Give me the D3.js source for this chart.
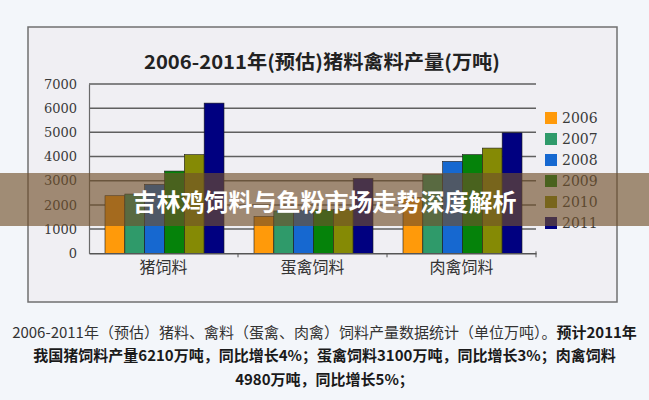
<!DOCTYPE html>
<html><head><meta charset="utf-8">
<script src="https://cdn.jsdelivr.net/npm/d3@7"></script>
<style>html,body{margin:0;padding:0;background:#f3f6fa;}svg{display:block;}</style>
</head><body>
<script>
const categories = ["猪饲料", "蛋禽饲料", "肉禽饲料"];
const years = ["2006", "2007", "2008", "2009", "2010", "2011"];
const v2006 = [2380, 1520, 2300];
const v2007 = [2450, 1750, 3250];
const v2008 = [2850, 1780, 3800];
const v2009 = [3400, 1800, 4080];
const v2010 = [4080, 1820, 4350];
const v2011 = [6210, 3100, 4980];
const yTicks = [0, 1000, 2000, 3000, 4000, 5000, 6000, 7000];
const seriesValues = [v2006, v2007, v2008, v2009, v2010, v2011];
const colors = ["#ff9a0a", "#2f9a6a", "#1668d0", "#05820a", "#858a05", "#000080"];
const title = "2006-2011年(预估)猪料禽料产量(万吨)";
const banner = "吉林鸡饲料与鱼粉市场走势深度解析";

const W = 649, H = 400;
const svg = d3.select("body").append("svg").attr("width", W).attr("height", H);
svg.append("rect").attr("width", W).attr("height", H).attr("fill", "#f3f6fa");

// frame
svg.append("rect").attr("x", 28).attr("y", 27).attr("width", 589).attr("height", 275)
  .attr("fill", "#f0eff3").attr("stroke", "#707070").attr("stroke-width", 1.5);

svg.append("text").attr("x", 322).attr("y", 60).attr("text-anchor", "middle")
  .attr("dominant-baseline", "central")
  .attr("font-family", "'Noto Sans CJK SC', sans-serif").attr("font-weight", 700)
  .attr("font-size", 19).attr("fill", "#222").attr("textLength", 356).attr("lengthAdjust", "spacingAndGlyphs")
  .text(title);

const x0 = d3.scaleBand().domain(categories).range([89, 536]).padding(0);
const x1 = d3.scaleBand().domain(years).range([16, 135]).padding(0);
const y = d3.scaleLinear().domain([0, 7000]).range([253.3, 84]);

// gridlines
svg.append("g").selectAll("line").data(yTicks.slice(1)).join("line")
  .attr("x1", 89).attr("x2", 536).attr("y1", d => y(d)).attr("y2", d => y(d))
  .attr("stroke", "#5f5f5f").attr("stroke-width", 1.5);

// y axis
const yAxis = d3.axisLeft(y).tickValues(yTicks).tickFormat(d3.format("d")).tickSize(0).tickPadding(12);
const gy = svg.append("g").attr("transform", "translate(89,0)").call(yAxis);
gy.select(".domain").attr("stroke", "#6a6a6a").attr("stroke-width", 1.2);
gy.selectAll("text").attr("font-family", "'DejaVu Serif', serif").attr("font-size", 13)
  .attr("fill", "#3a3a3a");

// bars
const bars = [];
categories.forEach((c, ci) => years.forEach((yr, si) => bars.push({c, yr, si, v: seriesValues[si][ci]})));
svg.append("g").selectAll("rect").data(bars).join("rect")
  .attr("x", d => x0(d.c) + x1(d.yr)).attr("width", x1.bandwidth())
  .attr("y", d => y(d.v)).attr("height", d => y(0) - y(d.v))
  .attr("fill", d => colors[d.si]).attr("stroke", "#1a1a1a").attr("stroke-width", 0.6);

// x axis
const xAxis = d3.axisBottom(x0).tickSize(0).tickPadding(12);
const gx = svg.append("g").attr("transform", `translate(0,${y(0)})`).call(xAxis);
gx.select(".domain").attr("stroke", "#555").attr("stroke-width", 1.5);
gx.selectAll("text").attr("font-family", "'Noto Sans CJK SC', sans-serif").attr("font-size", 16)
  .attr("fill", "#333").attr("dy", "0.5em");
svg.append("g").selectAll("line").data([categories[1], categories[2]]).join("line")
  .attr("x1", d => x0(d)).attr("x2", d => x0(d)).attr("y1", y(0)).attr("y2", y(0) + 4)
  .attr("stroke", "#555");
svg.append("line").attr("x1", 536).attr("x2", 536).attr("y1", y(0) - 2).attr("y2", y(0) + 4).attr("stroke", "#555");

// legend
const lg = svg.append("g");
years.forEach((yr, i) => {
  const cy = 118 + i * 21;
  lg.append("rect").attr("x", 545).attr("y", cy - 6).attr("width", 12).attr("height", 12).attr("fill", colors[i]);
  lg.append("text").attr("x", 562).attr("y", cy).attr("dominant-baseline", "central")
    .attr("font-family", "'DejaVu Serif', serif").attr("font-size", 14).attr("fill", "#3a3a3a").text(yr);
});

// banner overlay
svg.append("rect").attr("x", 0).attr("y", 173).attr("width", W).attr("height", 53)
  .attr("fill", "rgb(112,80,42)").attr("fill-opacity", 0.64);
svg.append("text").attr("x", 324.5).attr("y", 200).attr("text-anchor", "middle")
  .attr("dominant-baseline", "central")
  .attr("font-family", "'Noto Sans CJK SC', sans-serif").attr("font-weight", 700)
  .attr("font-size", 24).attr("fill", "#ffffff").text(banner);

// caption
const cap = svg.append("g").attr("font-family", "'Noto Sans CJK SC', sans-serif").attr("font-size", 15).attr("fill", "#1a1a1a");
const l1 = cap.append("text").attr("x", 324.5).attr("y", 331).attr("text-anchor", "middle").attr("dominant-baseline", "central");
l1.append("tspan").attr("fill", "#333").text("2006-2011年（预估）猪料、禽料（蛋禽、肉禽）饲料产量数据统计（单位万吨）。");
l1.append("tspan").attr("font-weight", 700).text("预计2011年");
cap.append("text").attr("x", 324.5).attr("y", 354).attr("text-anchor", "middle").attr("dominant-baseline", "central")
  .attr("font-weight", 700).text("我国猪饲料产量6210万吨，同比增长4%；蛋禽饲料3100万吨，同比增长3%；肉禽饲料");
cap.append("text").attr("x", 324.5).attr("y", 378).attr("text-anchor", "middle").attr("dominant-baseline", "central")
  .attr("font-weight", 700).text("4980万吨，同比增长5%；");
</script>
</body></html>
